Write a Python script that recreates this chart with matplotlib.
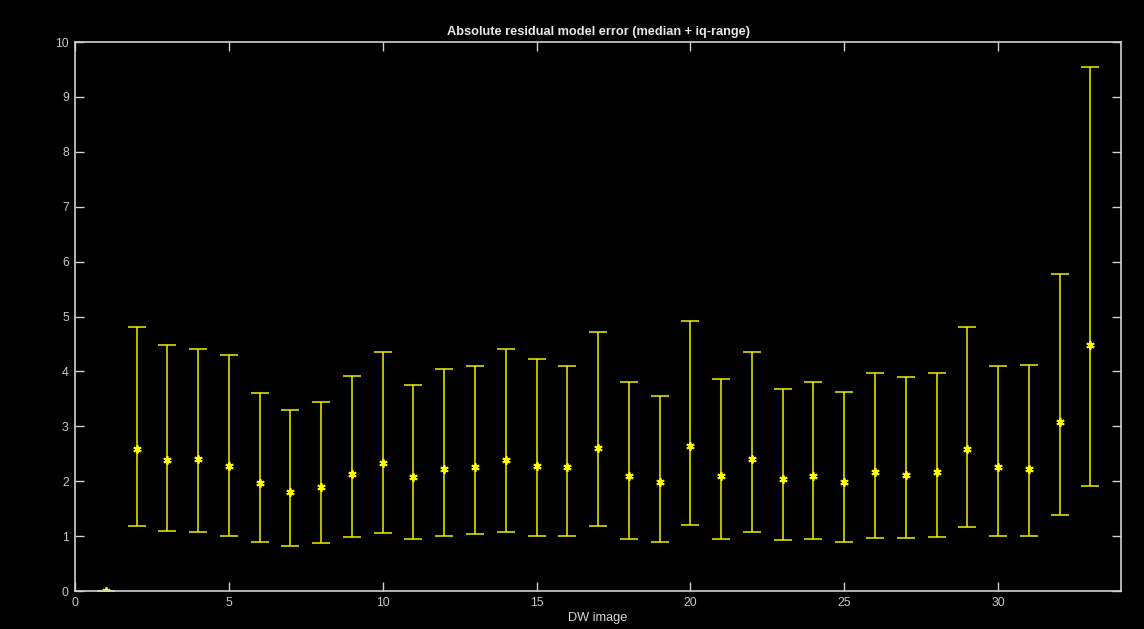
import matplotlib
matplotlib.use("Agg")
import matplotlib.pyplot as plt
import numpy as np

# Per-image residual error statistics
dw_image = list(range(1, 34))
median_err = [0.00, 2.59, 2.39, 2.40, 2.27, 1.97, 1.80, 1.90, 2.14, 2.33,
              2.08, 2.22, 2.25, 2.38, 2.27, 2.25, 2.61, 2.10, 1.98, 2.65,
              2.10, 2.40, 2.04, 2.10, 1.99, 2.16, 2.12, 2.16, 2.59, 2.25,
              2.23, 3.08, 4.49]
q_low = [0.00, 1.18, 1.09, 1.07, 1.01, 0.90, 0.82, 0.88, 0.99, 1.05,
         0.95, 1.01, 1.03, 1.07, 1.01, 1.01, 1.18, 0.95, 0.90, 1.20,
         0.95, 1.07, 0.93, 0.94, 0.90, 0.97, 0.97, 0.98, 1.16, 1.00,
         1.00, 1.39, 1.92]
q_high = [0.00, 4.81, 4.49, 4.40, 4.29, 3.61, 3.29, 3.44, 3.91, 4.36,
          3.76, 4.04, 4.10, 4.40, 4.23, 4.10, 4.72, 3.80, 3.55, 4.91,
          3.87, 4.36, 3.68, 3.81, 3.62, 3.98, 3.89, 3.98, 4.81, 4.10,
          4.12, 5.77, 9.55]

plt.rcParams['font.family'] = ['Liberation Sans', 'DejaVu Sans']

fig = plt.figure(figsize=(11.44, 6.29), dpi=100, facecolor='black')
ax = fig.add_axes([0.0656, 0.0604, 0.9144, 0.8728])
ax.set_facecolor('black')

x = np.array(dw_image)
med = np.array(median_err)
lo = med - np.array(q_low)
hi = np.array(q_high) - med

ax.errorbar(x, med, yerr=[lo, hi], fmt='none', ecolor='#f0f000',
            elinewidth=1.1, capsize=6.8, capthick=1.1)
ax.plot(x, med, linestyle='none', marker=(6, 2, 0), markersize=6,
        markeredgewidth=1.3, color='#ffff00')
ax.plot(x, med, linestyle='none', marker='o', markersize=2.5,
        color='#ffff00', markeredgewidth=0)

ax.set_xlim(0, 34)
ax.set_ylim(0, 10)
ax.set_xticks([0, 5, 10, 15, 20, 25, 30])
ax.set_yticks(range(0, 11))

for s in ax.spines.values():
    s.set_color('#d0d0d0')
    s.set_linewidth(1.2)
ax.tick_params(direction='in', length=6.2, width=1.0, colors='#d0d0d0',
               labelcolor='#c8c8c8', labelsize=8.8, top=True, right=True,
               pad=4.5)

ax.set_title('Absolute residual model error (median + iq-range)',
             color='#e8e8e8', fontsize=9.2, fontweight='bold', pad=5)
ax.set_xlabel('DW image', color='#d8d8d8', fontsize=9.2, labelpad=2)

fig.savefig('out.png', dpi=100, facecolor='black')
